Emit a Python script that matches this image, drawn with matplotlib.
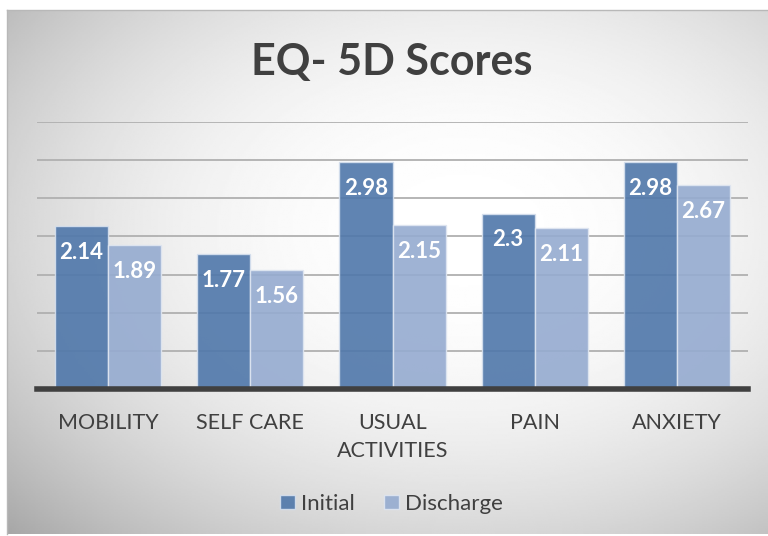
import numpy as np
import matplotlib.pyplot as plt
from matplotlib.patches import Patch

categories = ['MOBILITY', 'SELF CARE', 'USUAL\nACTIVITIES', 'PAIN', 'ANXIETY']
initial = [2.14, 1.77, 2.98, 2.3, 2.98]
discharge = [1.89, 1.56, 2.15, 2.11, 2.67]
labels_initial = ['2.14', '1.77', '2.98', '2.3', '2.98']
labels_discharge = ['1.89', '1.56', '2.15', '2.11', '2.67']

plt.rcParams['font.family'] = ['Lato', 'DejaVu Sans']

fig = plt.figure(figsize=(7.68, 5.36), dpi=100)
fig.patch.set_facecolor('white')

# radial grey-to-white background panel
bg = fig.add_axes([7 / 768, 2 / 536, 761 / 768, 524 / 536])
yy, xx = np.mgrid[0:1:300j, 0:1:400j]
r = np.sqrt(((xx - 0.6) / 0.72) ** 2 + ((yy - 0.42) / 0.72) ** 2)
shade = 1.0 - 0.25 * np.clip(r, 0, 1.2) ** 2.2
bg.imshow(shade, cmap='gray', vmin=0, vmax=1, aspect='auto', extent=[0, 1, 0, 1])
bg.set_xticks([])
bg.set_yticks([])
for s in bg.spines.values():
    s.set_color('#b8b8b8')
    s.set_linewidth(1)
bg.spines['right'].set_visible(False)
bg.spines['bottom'].set_visible(False)

ax = fig.add_axes([37 / 768, 147 / 536, 711 / 768, 267 / 536])
ax.patch.set_alpha(0)
x = np.arange(len(categories))
w = 0.373

ax.set_axisbelow(True)
ax.yaxis.grid(True, color='#b0b0b0', linewidth=1.3)
b1 = ax.bar(x - w / 2, initial, w, color='#4f77aa', alpha=0.9,
            edgecolor='#d6e0ee', linewidth=1, label='Initial')
b2 = ax.bar(x + w / 2, discharge, w, color='#95abd0', alpha=0.9,
            edgecolor='#dfe6f1', linewidth=1, label='Discharge')

for bars, labs in ((b1, labels_initial), (b2, labels_discharge)):
    for rect, lab in zip(bars, labs):
        ax.annotate(lab, (rect.get_x() + rect.get_width() / 2, rect.get_height()),
                    xytext=(0, -19), textcoords='offset points', ha='center', va='center',
                    color='white', fontsize=16, fontweight='bold')

ax.set_ylim(0, 3.5)
ax.set_xlim(-0.5, 4.5)
ax.set_yticks(np.arange(0, 3.51, 0.5))
ax.set_yticklabels([])
ax.tick_params(axis='y', length=0)
ax.tick_params(axis='x', length=0, pad=17)
ax.set_xticks(x)
ax.set_xticklabels(categories, fontsize=15.5, color='#404040', linespacing=1.5)
for s in ['top', 'right', 'left']:
    ax.spines[s].set_visible(False)
ax.spines['bottom'].set_color('#404040')
ax.spines['bottom'].set_linewidth(4)

fig.text(0.51, 0.885, 'EQ- 5D Scores', ha='center', va='center',
         fontsize=31, fontweight='bold', color='#404040')

handles = [Patch(facecolor='#4f77aa', edgecolor='#d6e0ee', alpha=0.9),
           Patch(facecolor='#95abd0', edgecolor='#dfe6f1', alpha=0.9)]
fig.legend(handles, ['Initial', 'Discharge'], loc='center', bbox_to_anchor=(0.51, 0.06),
           ncol=2, frameon=False, fontsize=16, handlelength=0.65, handleheight=0.65,
           handletextpad=0.3, columnspacing=1.3, labelcolor='#404040')

fig.savefig('out.png', dpi=100)
